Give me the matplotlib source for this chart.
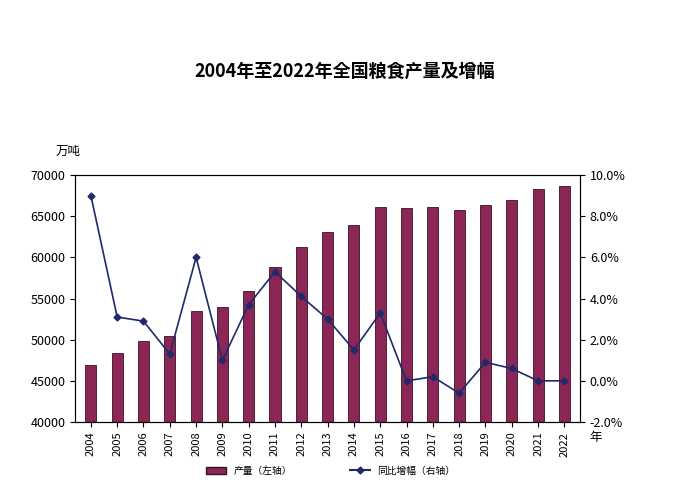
import matplotlib.pyplot as plt
from matplotlib import font_manager
from matplotlib.lines import Line2D
from matplotlib.patches import Patch

names = {f.name for f in font_manager.fontManager.ttflist}
cjk = [n for n in ['Noto Sans CJK SC', 'Noto Sans CJK JP', 'Noto Sans CJK TC', 'Noto Sans CJK KR'] if n in names]
plt.rcParams['font.family'] = 'sans-serif'
plt.rcParams['font.sans-serif'] = cjk + ['DejaVu Sans']

years = [str(y) for y in range(2004, 2023)]
output = [46947, 48402, 49804, 50414, 53434, 53941, 55911, 58849, 61223, 63048,
          63965, 66060, 66044, 66161, 65789, 66384, 66949, 68285, 68653]
growth = [9.0, 3.1, 2.9, 1.3, 6.0, 1.0, 3.7, 5.3, 4.1, 3.0,
          1.5, 3.3, 0.0, 0.2, -0.6, 0.9, 0.6, 0.0, 0.0]

fig = plt.figure(figsize=(6.89, 4.93), dpi=100)
ax = fig.add_axes([0.109, 0.144, 0.733, 0.501])
x = range(len(years))
ax.bar(x, output, width=0.42, color='#8B2657', edgecolor='#3a1020', linewidth=0.6)
ax.set_ylim(40000, 70000)
ax.set_yticks(range(40000, 70001, 5000))
ax.set_xlim(-0.6, len(years) - 0.4)
ax.set_xticks(list(x))
ax.set_xticklabels(years, rotation=90, fontsize=8)
ax.tick_params(axis='y', labelsize=9)

ax2 = ax.twinx()
ax2.plot(x, growth, color='#1F2A6B', marker='D', markersize=3.5, linewidth=1.2)
ax2.set_ylim(-2, 10)
ax2.set_yticks(range(-2, 11, 2))
ax2.set_yticklabels([f'{v:.1f}%' for v in range(-2, 11, 2)], fontsize=9)

fig.text(0.5, 0.845, '2004年至2022年全国粮食产量及增幅', ha='center', fontsize=13,
         fontweight='bold')
fig.text(0.08, 0.685, '万吨', fontsize=9)
fig.text(0.855, 0.105, '年', fontsize=9)

handles = [Patch(facecolor='#8B2657', edgecolor='#3a1020', label='产量（左轴）'),
           Line2D([0], [0], color='#1F2A6B', marker='D', markersize=3.5, label='同比增幅（右轴）')]
fig.legend(handles=handles, loc='center', bbox_to_anchor=(0.48, 0.045), ncol=2,
           frameon=False, fontsize=7, columnspacing=6)

fig.savefig('out.png')
